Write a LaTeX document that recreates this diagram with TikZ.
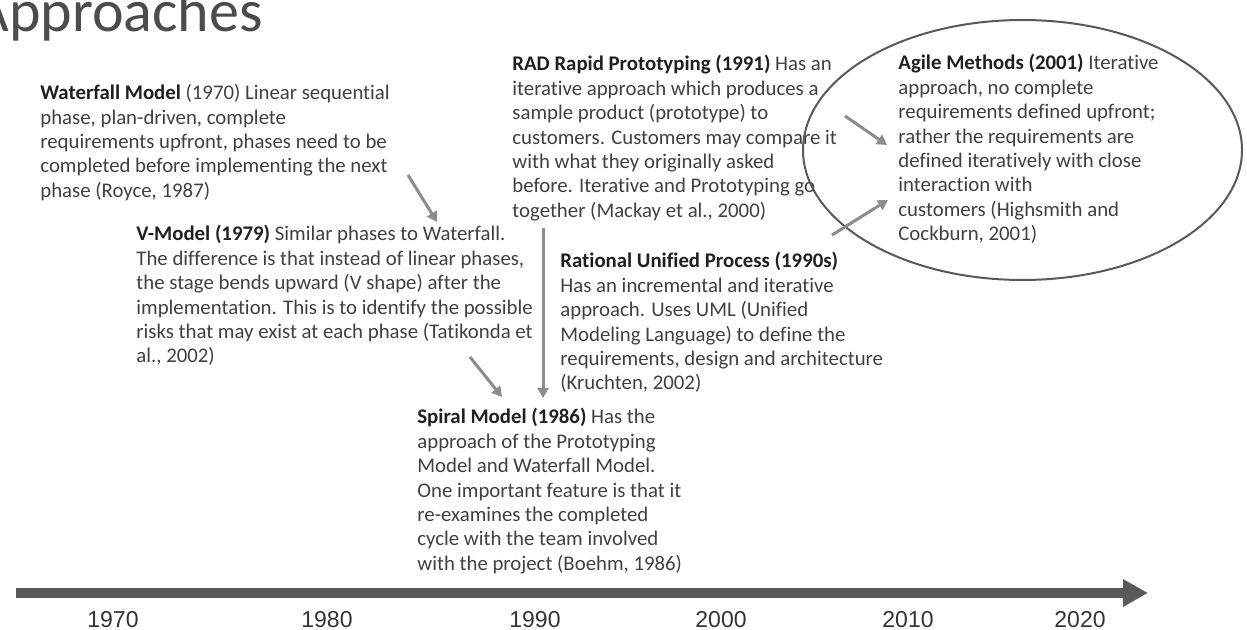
\documentclass[tikz,border=0pt]{standalone}
\usepackage{fontspec}
\setmainfont[Ligatures={NoCommon}]{Carlito}
\newfontfamily\yearfont{Liberation Sans}
\usetikzlibrary{arrows.meta}
\definecolor{txtgray}{HTML}{404040}
\definecolor{headgray}{HTML}{1F1F1F}
\definecolor{arrgray}{HTML}{8C8C8C}
\definecolor{linegray}{HTML}{595959}
\newcommand{\entryhead}[1]{\textcolor{headgray}{\textbf{#1}}}

\begin{document}
\begin{tikzpicture}[x=0.5pt, y=-0.5pt,
    entry/.style={anchor=north west, inner sep=0pt, align=left, text=txtgray,
                  font=\fontsize{10.4}{12.2}\selectfont},
    yr/.style={inner sep=0pt, text=black!80, font=\yearfont\fontsize{11.5}{13}\selectfont},
    arr/.style={-{Triangle[length=5pt, width=5.5pt]}, line width=1.5pt, arrgray},
    axis/.style={-{Triangle[length=12.5pt, width=13pt]}, line width=5pt, linegray}
  ]
  \clip (0,0) rectangle (1247,630);
  \node[anchor=base east, inner sep=0pt, text=black!70,
        font=\fontsize{30}{36}\selectfont] (title) at (263,32) {Approaches};

  \node[entry] (wf) at (40,84)
    {\entryhead{Waterfall Model} (1970) Linear sequential\\
     phase, plan-driven, complete\\
     requirements upfront, phases need to be\\
     completed before implementing the next\\
     phase (Royce, 1987)};
  \node[entry] (vm) at (136,225)
    {\entryhead{V-Model (1979)} Similar phases to Waterfall.\\
     The difference is that instead of linear phases,\\
     the stage bends upward (V shape) after the\\
     implementation. This is to identify the possible\\
     risks that may exist at each phase (Tatikonda et\\
     al., 2002)};
  \node[entry] (rad) at (512,55)
    {\entryhead{RAD Rapid Prototyping (1991)} Has an\\
     iterative approach which produces a\\
     sample product (prototype) to\\
     customers. Customers may compare it\\
     with what they originally asked\\
     before. Iterative and Prototyping go\\
     together (Mackay et al., 2000)};
  \node[entry] (agile) at (898,54)
    {\entryhead{Agile Methods (2001)} Iterative\\
     approach, no complete\\
     requirements defined upfront;\\
     rather the requirements are\\
     defined iteratively with close\\
     interaction with\\
     customers (Highsmith and\\
     Cockburn, 2001)};
  \node[entry] (rup) at (560,252)
    {\entryhead{Rational Unified Process (1990s)}\\
     Has an incremental and iterative\\
     approach. Uses UML (Unified\\
     Modeling Language) to define the\\
     requirements, design and architecture\\
     (Kruchten, 2002)};
  \node[entry] (spiral) at (417,408)
    {\entryhead{Spiral Model (1986)} Has the\\
     approach of the Prototyping\\
     Model and Waterfall Model.\\
     One important feature is that it\\
     re-examines the completed\\
     cycle with the team involved\\
     with the project (Boehm, 1986)};

  \draw[linegray, line width=1pt] (1022.5,150) ellipse [x radius=109.75pt, y radius=65pt];

  \coordinate (wf-out) at (408,175);
  \coordinate (vm-in) at (437,222);
  \coordinate (vm-out) at (470,357);
  \coordinate (sp-in) at (502,397);
  \coordinate (rad-out) at (543,228);
  \coordinate (sp-in2) at (543,398);
  \coordinate (rad-out2) at (845,116);
  \coordinate (ag-in) at (887,145);
  \coordinate (rup-out) at (832,235);
  \coordinate (ag-in2) at (888,200);
  \draw[arr] (wf-out) -- (vm-in);
  \draw[arr] (vm-out) -- (sp-in);
  \draw[arr] (rad-out) -- (sp-in2);
  \draw[arr] (rad-out2) -- (ag-in);
  \draw[arr] (rup-out) -- (ag-in2);

  \coordinate (tl-start) at (16,593);
  \coordinate (tl-end) at (1148,593);
  \draw[axis] (tl-start) -- (tl-end);
  \node[yr] (y1970) at (113,620) {1970};
  \node[yr] (y1980) at (327,620) {1980};
  \node[yr] (y1990) at (535,620) {1990};
  \node[yr] (y2000) at (721,620) {2000};
  \node[yr] (y2010) at (908,620) {2010};
  \node[yr] (y2020) at (1080,620) {2020};
\end{tikzpicture}
\end{document}
